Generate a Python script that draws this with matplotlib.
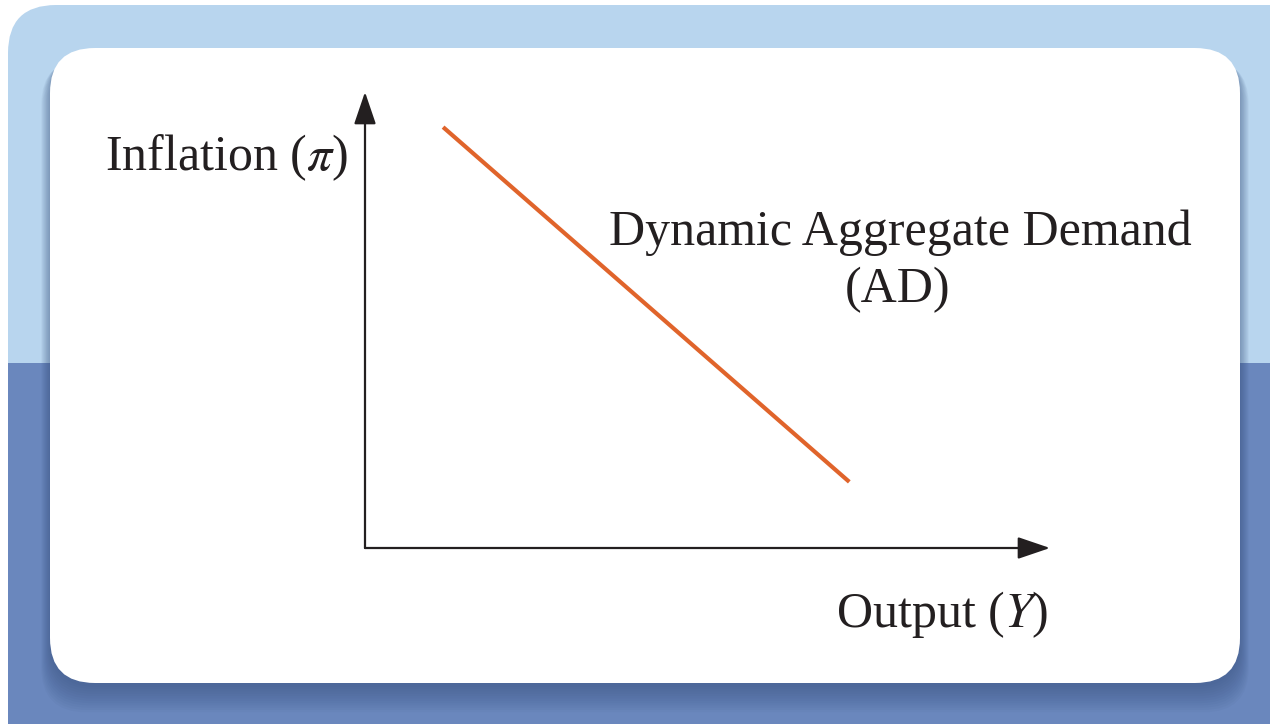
import matplotlib
matplotlib.use("Agg")
import matplotlib.pyplot as plt
from matplotlib.patches import FancyBboxPatch, Rectangle

# AD curve (in chart units, axes run 0..10)
ad_output = [1.14, 7.07]
ad_inflation = [9.23, 1.45]

y_label = "Inflation ($\\pi$)"
x_label = "Output ($Y$)"
curve_label = ["Dynamic Aggregate Demand", "(AD)"]

plt.rcParams['font.family'] = ['Liberation Serif', 'DejaVu Serif']
plt.rcParams['mathtext.fontset'] = 'stix'

W, H = 1270, 724
fig = plt.figure(figsize=(W / 100, H / 100), dpi=100)
fig.patch.set_facecolor('white')

# background panel in pixel coords
bg = fig.add_axes([0, 0, 1, 1])
bg.set_xlim(0, W)
bg.set_ylim(H, 0)
bg.axis('off')

light = '#B8D5EE'
dark = '#6A87BD'
bg.add_patch(FancyBboxPatch((8, 5), 1400, 1000, boxstyle="round,pad=0,rounding_size=48",
                            fc=light, ec='none'))
bg.add_patch(Rectangle((8, 363), 1400, 500, fc=dark, ec='none'))

# soft shadow under the card, mostly downward
for i in range(12):
    off = 4 + i * 1.5
    bg.add_patch(FancyBboxPatch((50, 48 + off), 1190, 635,
                                boxstyle="round,pad=%f,rounding_size=45" % (i * 0.8),
                                fc='#2E4673', ec='none', alpha=0.045))

bg.add_patch(FancyBboxPatch((50, 48), 1190, 635, boxstyle="round,pad=0,rounding_size=45",
                            fc='white', ec='none'))

txt = '#231F20'
bg.text(105, 170, y_label, fontsize=36, color=txt, va='baseline', ha='left')
bg.text(900, 245, curve_label[0], fontsize=36, color=txt, va='baseline', ha='center')
bg.text(898, 302, curve_label[1], fontsize=36, color=txt, va='baseline', ha='center')
bg.text(836, 627, x_label, fontsize=36, color=txt, va='baseline', ha='left')

# chart axes, origin at (365, 548) px
ax = fig.add_axes([365 / W, (H - 548) / H, 685 / W, 456 / H])
ax.set_xlim(0, 10)
ax.set_ylim(0, 10)
ax.axis('off')

arrow = dict(arrowstyle='-|>,head_length=1.0,head_width=0.34', color='#231F20',
             lw=1.6, mutation_scale=20, shrinkA=0, shrinkB=0)
ax.annotate('', xy=(10, 0), xytext=(0, 0), arrowprops=arrow, annotation_clip=False)
ax.annotate('', xy=(0, 10), xytext=(0, 0), arrowprops=arrow, annotation_clip=False)

ax.plot(ad_output, ad_inflation, color='#E0642B', lw=3, solid_capstyle='butt')

fig.savefig('out.png', dpi=100)
